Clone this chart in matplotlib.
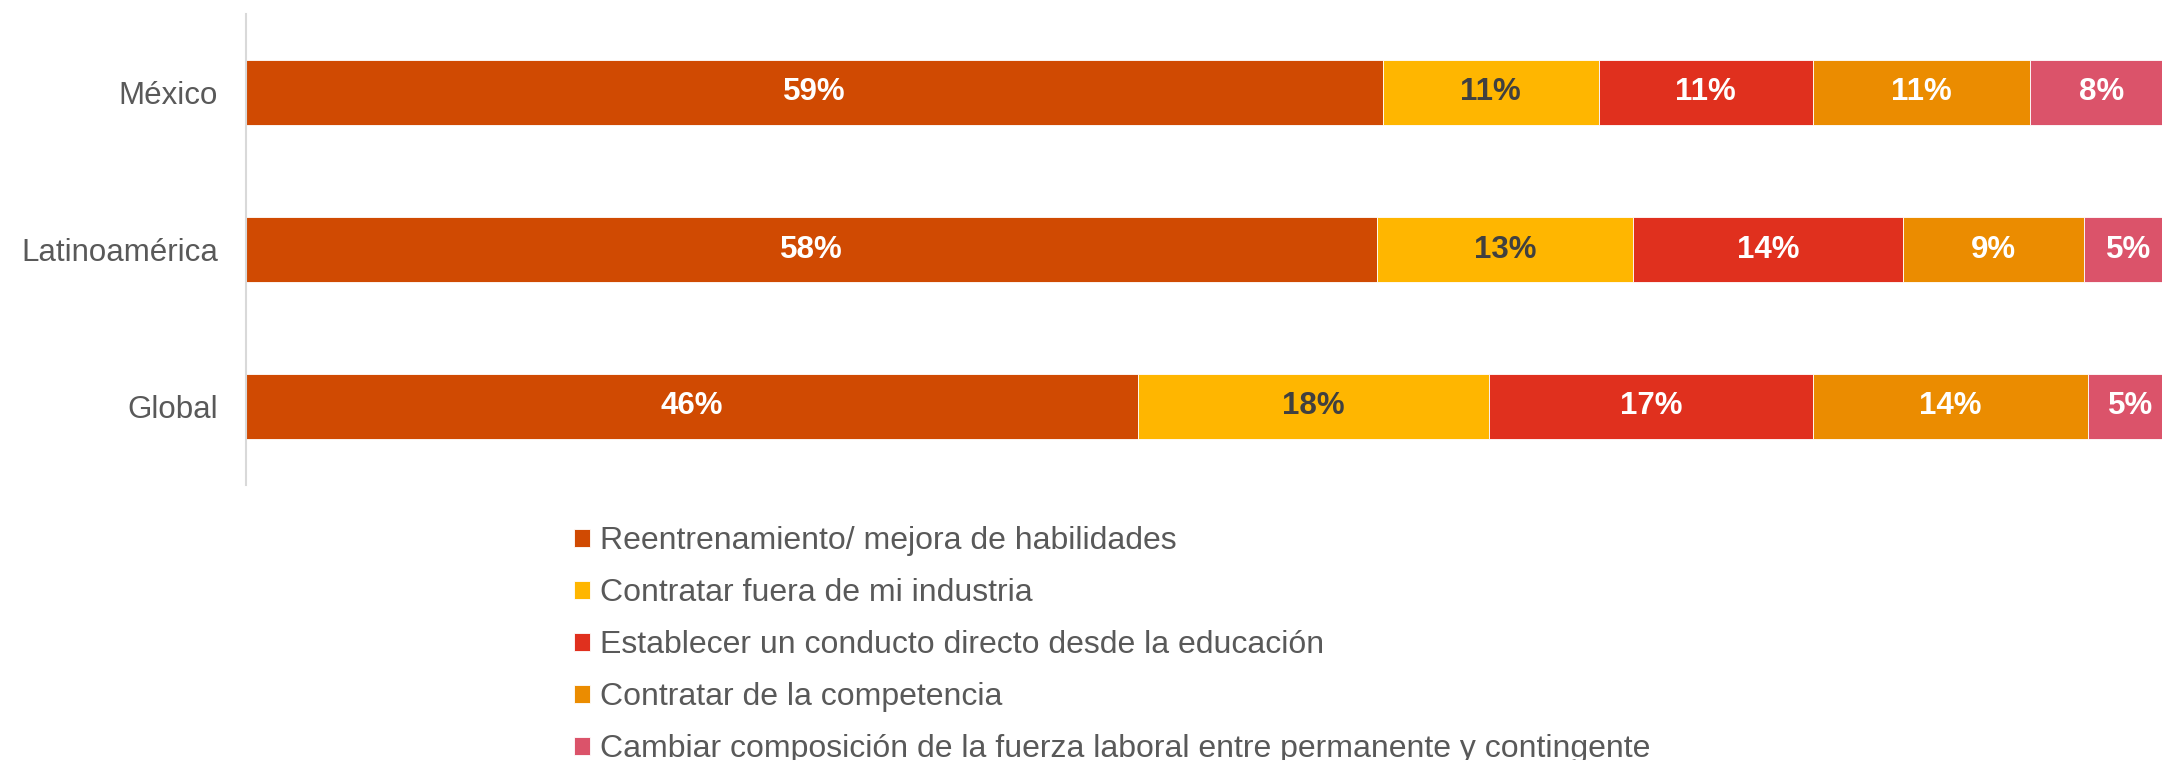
import numpy as np
import matplotlib.pyplot as plt

plt.rcParams['font.family'] = ['Liberation Sans', 'DejaVu Sans']

# Datos
regiones = ["México", "Latinoamérica", "Global"]
series = [
    "Reentrenamiento/ mejora de habilidades",
    "Contratar fuera de mi industria",
    "Establecer un conducto directo desde la educación",
    "Contratar de la competencia",
    "Cambiar composición de la fuerza laboral entre permanente y contingente",
]
# proporción de cada barra (estimada de la figura) y etiqueta mostrada
reentrenamiento = [59.0, 58.7, 46.3]
fuera_industria = [11.2, 13.3, 18.2]
conducto_educ = [11.1, 14.0, 16.8]
competencia = [11.3, 9.4, 14.3]
composicion = [7.4, 4.6, 4.4]
etiquetas = [
    [59, 58, 46],
    [11, 13, 18],
    [11, 14, 17],
    [11, 9, 14],
    [8, 5, 5],
]

colores = ["#D04A02", "#FFB600", "#E0301E", "#EB8C00", "#DB536A"]
color_texto = ["white", "#404040", "white", "white", "white"]

valores = [reentrenamiento, fuera_industria, conducto_educ, competencia, composicion]

W, H = 2162, 760
fig = plt.figure(figsize=(W / 100, H / 100), dpi=100)
ax = fig.add_axes([246 / W, 1 - 485 / H, 1927 / W, 471 / H])

y = np.arange(len(regiones))
izq = np.zeros(len(regiones))
for vals, col, tcol, labs, nombre in zip(valores, colores, color_texto, etiquetas, series):
    vals = np.array(vals)
    ax.barh(y, vals, left=izq, height=0.41, color=col, label=nombre,
            edgecolor="white", linewidth=0.6)
    for xi, yi, v, lab in zip(izq, y, vals, labs):
        ax.text(xi + v / 2, yi, f"{lab}%", ha="center", va="center",
                fontsize=22.5, fontweight="bold", color=tcol)
    izq += vals

ax.set_xlim(0, 100)
ax.set_ylim(2.5, -0.5)
ax.set_yticks(y)
ax.set_yticklabels(regiones, fontsize=22.5, color="#595959")
ax.tick_params(axis="y", length=0, pad=20)
ax.set_xticks([])
for s in ["top", "right", "bottom"]:
    ax.spines[s].set_visible(False)
ax.spines["left"].set_color("#D9D9D9")
ax.spines["left"].set_linewidth(1.5)

handles, labels = ax.get_legend_handles_labels()
leg = fig.legend(handles, labels, loc="upper left",
                 bbox_to_anchor=(558 / W, 1 - 510 / H), frameon=False,
                 fontsize=23, handlelength=0.5, handleheight=0.5,
                 handletextpad=0.3, labelspacing=0.69, borderpad=0)
for t in leg.get_texts():
    t.set_color("#595959")

fig.savefig("out.png", dpi=100)
